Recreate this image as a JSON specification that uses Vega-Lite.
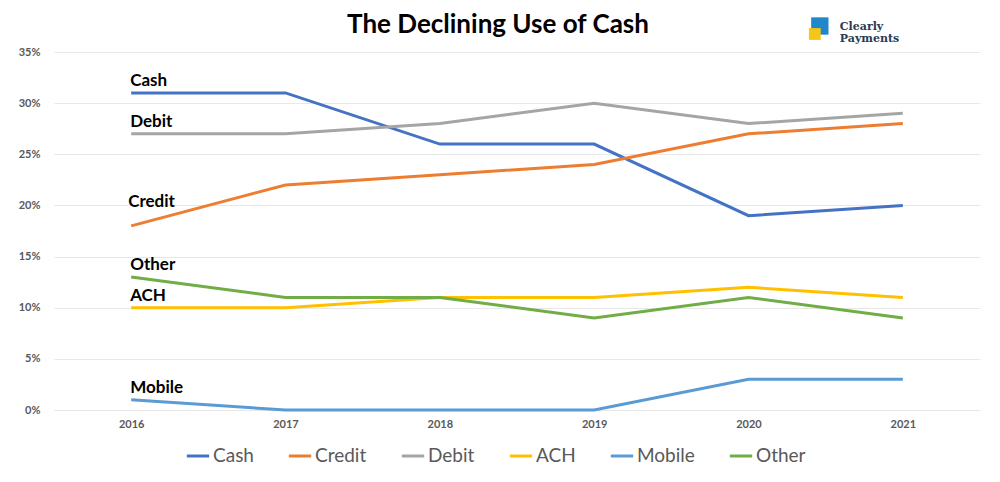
{
  "$schema": "https://vega.github.io/schema/vega-lite/v6.json",
  "autosize": "none",
  "width": 926,
  "height": 358,
  "padding": {"left": 54, "top": 52, "right": 20, "bottom": 72},
  "background": "white",
  "config": {
    "font": "Lato",
    "view": {"stroke": null}
  },
  "title": {
    "text": "The Declining Use of Cash",
    "fontSize": 26,
    "fontWeight": "bold",
    "color": "#000000",
    "anchor": "middle",
    "dx": -19,
    "dy": 39,
    "offset": 18
  },
  "datasets": {
    "series": [
      {"year": "2016", "method": "Cash", "pct": 31},
      {"year": "2017", "method": "Cash", "pct": 31},
      {"year": "2018", "method": "Cash", "pct": 26},
      {"year": "2019", "method": "Cash", "pct": 26},
      {"year": "2020", "method": "Cash", "pct": 19},
      {"year": "2021", "method": "Cash", "pct": 20},
      {"year": "2016", "method": "Credit", "pct": 18},
      {"year": "2017", "method": "Credit", "pct": 22},
      {"year": "2018", "method": "Credit", "pct": 23},
      {"year": "2019", "method": "Credit", "pct": 24},
      {"year": "2020", "method": "Credit", "pct": 27},
      {"year": "2021", "method": "Credit", "pct": 28},
      {"year": "2016", "method": "Debit", "pct": 27},
      {"year": "2017", "method": "Debit", "pct": 27},
      {"year": "2018", "method": "Debit", "pct": 28},
      {"year": "2019", "method": "Debit", "pct": 30},
      {"year": "2020", "method": "Debit", "pct": 28},
      {"year": "2021", "method": "Debit", "pct": 29},
      {"year": "2016", "method": "ACH", "pct": 10},
      {"year": "2017", "method": "ACH", "pct": 10},
      {"year": "2018", "method": "ACH", "pct": 11},
      {"year": "2019", "method": "ACH", "pct": 11},
      {"year": "2020", "method": "ACH", "pct": 12},
      {"year": "2021", "method": "ACH", "pct": 11},
      {"year": "2016", "method": "Mobile", "pct": 1},
      {"year": "2017", "method": "Mobile", "pct": 0},
      {"year": "2018", "method": "Mobile", "pct": 0},
      {"year": "2019", "method": "Mobile", "pct": 0},
      {"year": "2020", "method": "Mobile", "pct": 3},
      {"year": "2021", "method": "Mobile", "pct": 3},
      {"year": "2016", "method": "Other", "pct": 13},
      {"year": "2017", "method": "Other", "pct": 11},
      {"year": "2018", "method": "Other", "pct": 11},
      {"year": "2019", "method": "Other", "pct": 9},
      {"year": "2020", "method": "Other", "pct": 11},
      {"year": "2021", "method": "Other", "pct": 9}
    ],
    "logo": [
      {"year": "2021", "pct": 35}
    ]
  },
  "layer": [
    {
      "data": {"name": "series"},
      "mark": {"type": "line", "strokeWidth": 3},
      "encoding": {
        "x": {
          "field": "year",
          "type": "ordinal",
          "scale": {"type": "point", "padding": 0.5},
          "axis": {
            "title": null,
            "labelAngle": 0,
            "labelFontWeight": "bold",
            "labelFontSize": 11,
            "labelColor": "#595959",
            "labelPadding": 8,
            "ticks": false,
            "domain": false,
            "grid": false
          }
        },
        "y": {
          "field": "pct",
          "type": "quantitative",
          "scale": {"domain": [0, 35]},
          "axis": {
            "title": null,
            "values": [0, 5, 10, 15, 20, 25, 30, 35],
            "labelExpr": "datum.value + '%'",
            "labelFontWeight": "bold",
            "labelFontSize": 11,
            "labelColor": "#595959",
            "labelPadding": 14,
            "ticks": false,
            "domain": false,
            "gridColor": "#e8e8e8",
            "gridWidth": 1
          }
        },
        "color": {
          "field": "method",
          "type": "nominal",
          "scale": {
            "domain": ["Cash", "Credit", "Debit", "ACH", "Mobile", "Other"],
            "range": ["#4472C4", "#ED7D31", "#A5A5A5", "#FFC000", "#5B9BD5", "#70AD47"]
          },
          "legend": {
            "title": null,
            "orient": "none",
            "legendX": 131,
            "legendY": 391,
            "direction": "horizontal",
            "symbolType": "stroke",
            "symbolStrokeWidth": 3,
            "symbolSize": 500,
            "labelFontSize": 19,
            "labelColor": "#595959",
            "labelFont": "Lato",
            "columnPadding": 28,
            "labelOffset": 2
          }
        }
      }
    },
    {
      "data": {"name": "series"},
      "transform": [{"filter": "datum.year == '2016' && datum.method != 'Credit'"}],
      "mark": {"type": "text", "align": "left", "dx": -1, "dy": -12, "fontSize": 17, "fontWeight": "bold", "color": "#000000"},
      "encoding": {
        "x": {"field": "year", "type": "ordinal"},
        "y": {"field": "pct", "type": "quantitative"},
        "text": {"field": "method"}
      }
    },
    {
      "data": {"name": "series"},
      "transform": [{"filter": "datum.year == '2016' && datum.method == 'Credit'"}],
      "mark": {"type": "text", "align": "left", "dx": -3, "dy": -24, "fontSize": 17, "fontWeight": "bold", "color": "#000000"},
      "encoding": {
        "x": {"field": "year", "type": "ordinal"},
        "y": {"field": "pct", "type": "quantitative"},
        "text": {"field": "method"}
      }
    },
    {
      "data": {"name": "logo"},
      "mark": {"type": "point", "shape": "square", "filled": true, "size": 300, "color": "#1E88C8", "opacity": 1, "xOffset": -83, "yOffset": -26},
      "encoding": {
        "x": {"field": "year", "type": "ordinal"},
        "y": {"field": "pct", "type": "quantitative"}
      }
    },
    {
      "data": {"name": "logo"},
      "mark": {"type": "point", "shape": "square", "filled": true, "size": 140, "color": "#F5C518", "opacity": 1, "xOffset": -88, "yOffset": -18},
      "encoding": {
        "x": {"field": "year", "type": "ordinal"},
        "y": {"field": "pct", "type": "quantitative"}
      }
    },
    {
      "data": {"name": "logo"},
      "mark": {"type": "text", "align": "left", "baseline": "middle", "dx": -63, "dy": -25, "fontSize": 11, "fontWeight": "bold", "color": "#2b3a55", "lineHeight": 12, "font": "DejaVu Serif"},
      "encoding": {
        "x": {"field": "year", "type": "ordinal"},
        "y": {"field": "pct", "type": "quantitative"},
        "text": {"value": ["Clearly", "Payments"]}
      }
    }
  ]
}
